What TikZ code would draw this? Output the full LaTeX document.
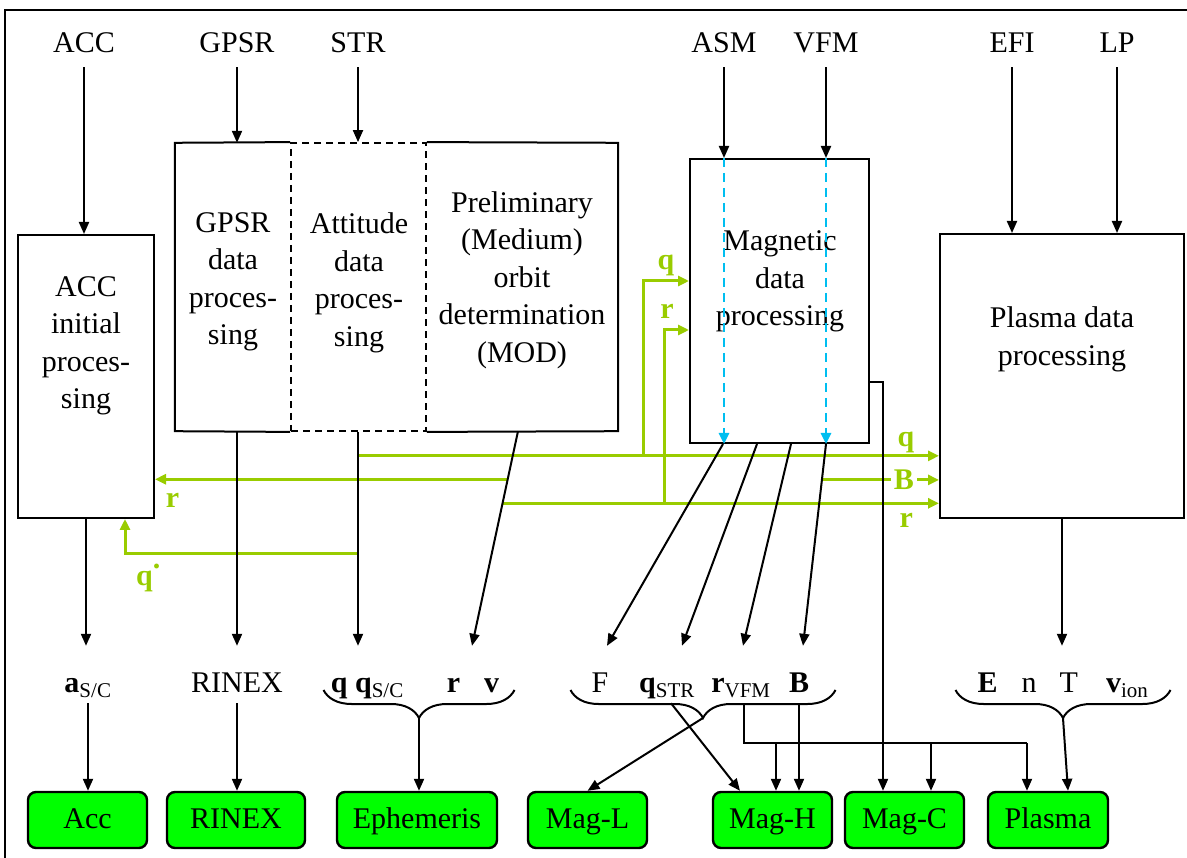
\documentclass[tikz,border=0pt]{standalone}
\usepackage{fontspec}
\setmainfont{Liberation Serif}
\usetikzlibrary{arrows.meta,decorations.pathreplacing,backgrounds}

\definecolor{feedgreen}{RGB}{153,204,0}
\definecolor{magcyan}{RGB}{0,190,240}
\definecolor{prodgreen}{RGB}{0,255,0}

\newcommand{\bigfont}{\fontsize{30}{37.5}\selectfont}

\tikzstyle{block}=[draw,line width=2pt,inner sep=0pt]
\tikzstyle{part}=[inner sep=0pt,minimum height=288pt]
\tikzstyle{blocktext}=[align=center,inner sep=0pt]
\tikzstyle{sensor}=[inner xsep=0pt,inner ysep=14pt,text height=21pt,text depth=0pt]
\tikzstyle{quantity}=[anchor=base,inner sep=0pt,text height=46pt,text depth=11pt]
\tikzstyle{product}=[draw,line width=2.4pt,fill=prodgreen,rounded corners=8pt,minimum height=56pt,inner sep=0pt,text height=21pt,text depth=4pt]
\tikzstyle{edge}=[draw,line width=2pt,-{Triangle[length=12pt,width=10pt]}]
\tikzstyle{wire}=[draw,line width=2pt]
\tikzstyle{divider}=[draw,line width=1.8pt,dash pattern=on 7pt off 5pt]
\tikzstyle{through}=[draw,magcyan,line width=2.6pt,dash pattern=on 9pt off 6pt,-{Triangle[length=11pt,width=10pt]}]
\tikzstyle{feed}=[draw,feedgreen,line width=3pt,-{Triangle[length=11pt,width=10pt]}]
\tikzstyle{feedlabel}=[text=feedgreen,font=\bigfont\bfseries,inner sep=1pt]
\tikzstyle{brace}=[draw,line width=2pt,decorate,decoration={brace,mirror,amplitude=28pt}]

\begin{document}
\begin{tikzpicture}[x=1pt,y=-1pt,every node/.style={font=\bigfont}]
    \useasboundingbox (0,0) rectangle (1187,858);
    % frame
    \draw[line width=2pt] (5,858) -- (5,10) -- (1187,10);

    % First the instruments on top
    \foreach \pos/\name/\txt in {{(84,42.5)/accin/ACC}, {(237,42.5)/gpsrin/GPSR}, {(358,42.5)/strin/STR},
        {(724,42.5)/asmin/ASM}, {(826,42.5)/vfmin/VFM}, {(1012,42.5)/efiin/EFI}, {(1117,42.5)/lpin/LP}}
        \node[sensor] (\name) at \pos {\txt};

    % Processing blocks
    \node[block,minimum width=136pt,minimum height=283pt] (accblk) at (86,376.5) {};
    \node[part,minimum width=116pt] (gpsr) at (233,287) {};
    \node[part,divider,minimum width=135pt] (att) at (358.5,287) {};
    \node[part,minimum width=192pt] (mod) at (522,287) {};
    \node[block,minimum width=179pt,minimum height=284pt] (mag) at (779.5,301) {};
    \node[block,minimum width=244pt,minimum height=284pt] (plasma) at (1062,376) {};
    \draw[line width=2pt] (att.north west) -- (gpsr.north west) -- (gpsr.south west) -- (att.south west);
    \draw[line width=2pt] (att.north east) -- (mod.north east) -- (mod.south east) -- (att.south east);

    \node[blocktext] (acctxt) at (86,346) {ACC\\initial\\proces-\\sing};
    \node[blocktext] (gpsrtxt) at (233,282) {GPSR\\data\\proces-\\sing};
    \node[blocktext] (atttxt) at (359,283) {Attitude\\data\\proces-\\sing};
    \node[blocktext] (modtxt) at (522,280) {Preliminary\\(Medium)\\orbit\\determination\\(MOD)};
    \node[blocktext] (magtxt) at (780,281.5) {Magnetic\\data\\processing};
    \node[blocktext] (platxt) at (1062,339.5) {Plasma data\\processing};

    % Inputs
    \foreach \name/\blk in {accin/accblk, gpsrin/gpsr, strin/att, asmin/mag, vfmin/mag, efiin/plasma, lpin/plasma}
        \path[edge] (\name) -- (\name |- \blk.north);
    \foreach \name in {asmin, vfmin}
        \path[through] (\name |- mag.north) -- (\name |- mag.south);

    % Quantities
    \node[quantity] (asc) at (88,692) {\textbf{a}\textsubscript{S/C}};
    \node[quantity] (rinexq) at (237,692) {RINEX};
    \node[quantity] (ephq) at (415,692) {\textbf{q} \textbf{q}\textsubscript{S/C}\hspace{43pt}\textbf{r}\hspace{24pt}\textbf{v}};
    \node[quantity] (qF) at (600,692) {F};
    \node[quantity] (qSTR) at (667,692) {\textbf{q}\textsubscript{STR}};
    \node[quantity] (qVFM) at (741,692) {\textbf{r}\textsubscript{VFM}};
    \node[quantity] (qB) at (799,692) {\textbf{B}};
    \node[quantity] (plaq) at (1063,692) {\textbf{E}\hspace{24pt}n\hspace{23pt}T\hspace{28pt}\textbf{v}\textsubscript{ion}};

    \foreach \x/\w in {419/191, 703/265, 1063/215}
        \draw[brace] (\x-\w/2,690) -- (\x+\w/2,690);
    \coordinate (ephtip) at (419,718);
    \coordinate (magtip) at (703,718);
    \coordinate (platip) at (1063,718);

    % Products
    \foreach \pos/\name/\txt/\w in {{(87.5,820)/accbox/Acc/119}, {(236,820)/rinexbox/RINEX/138},
        {(417,820)/ephbox/Ephemeris/160}, {(587.5,820)/maglbox/Mag-L/119}, {(772.5,820)/maghbox/Mag-H/119},
        {(904.5,820)/magcbox/Mag-C/119}, {(1048,820)/plabox/Plasma/120}}
        \node[product,minimum width=\w pt] (\name) at \pos {\txt};

    % Outputs of the blocks
    \path[edge] (accblk.south) -- (accblk.south |- asc.north);
    \path[edge] (gpsrin |- gpsr.south) -- (gpsrin |- rinexq.north);
    \path[edge] (strin |- att.south) -- coordinate[pos=0.112] (qsrc) coordinate[pos=0.567] (qdotsrc) (strin |- ephq.north);
    \path[edge] ([xshift=-4pt]mod.south) -- coordinate[pos=0.224] (rsrc) coordinate[pos=0.336] (rsrc2) ([xshift=57pt]ephq.north);
    \foreach \dx/\name/\ex in {-56.5/qF/7, -22.5/qSTR/15, 11.5/qVFM/2}
        \path[edge] ([xshift=\dx pt]mag.south) -- ([xshift=\ex pt]\name.north);
    \path[edge] ([xshift=46.5pt]mag.south) -- coordinate[pos=0.178] (bsrc) ([xshift=4pt]qB.north);
    \path[edge] (plasma.south) -- (plasma.south |- plaq.north);
    \path[edge] ([yshift=-81pt]mag.east) -| ([xshift=-21.5pt]magcbox.north);

    % Into the products
    \path[edge] (asc.south) -- (asc.south |- accbox.north);
    \path[edge] (rinexq.south) -- (rinexq.south |- rinexbox.north);
    \path[edge] (ephtip) -- (ephtip |- ephbox.north);
    \path[edge] (magtip) -- (maglbox.north);
    \path[edge] ([xshift=4pt]qSTR.south) -- ([xshift=-32.5pt]maghbox.north);
    \path[edge] (qB.south) -- (qB.south |- maghbox.north);
    \path[edge] (platip) -- ([xshift=20pt]plabox.north);
    \coordinate (tapH) at (776,743);
    \coordinate (tapC) at (931,743);
    \coordinate (tapP) at (1027,743);
    \path[wire] ([xshift=3pt]qVFM.south) |- (tapP);
    \foreach \tap/\dst in {tapH/maghbox, tapC/magcbox, tapP/plabox}
        \path[edge] (\tap) -- (\tap |- \dst.north);

    % Feedback lines behind the black ones
    \coordinate (qtap) at (643,455);
    \coordinate (rtap) at (664,503);
    \begin{scope}[on background layer]
        \path[feed] (qsrc) -- node[feedlabel,above,pos=0.943] (qplal) {q} (qsrc -| plasma.west);
        \path[feed] (qtap) |- node[feedlabel,above=3pt,pos=0.75] (qmagl) {q} ([yshift=20pt]mag.west);
        \path[feed] (rsrc) -- node[feedlabel,below=12pt,pos=0.95] (raccl) {r} (rsrc -| accblk.east);
        \path[feed] (bsrc) -- node[feedlabel,fill=white,inner xsep=3pt,pos=0.7] (bplal) {B} (bsrc -| plasma.west);
        \path[feed] (rsrc2) -- node[feedlabel,below=7pt,pos=0.925] (rplal) {r} (rsrc2 -| plasma.west);
        \path[feed] (rtap) |- node[feedlabel,above=9pt,pos=0.56] (rmagl) {r} ([yshift=-29pt]mag.west);
        \path[feed] (qdotsrc) -| node[feedlabel,below=8pt,pos=0.45] (qdotl) {q\raisebox{17pt}{.}} ([xshift=39pt]accblk.south);
    \end{scope}
\end{tikzpicture}
\end{document}
